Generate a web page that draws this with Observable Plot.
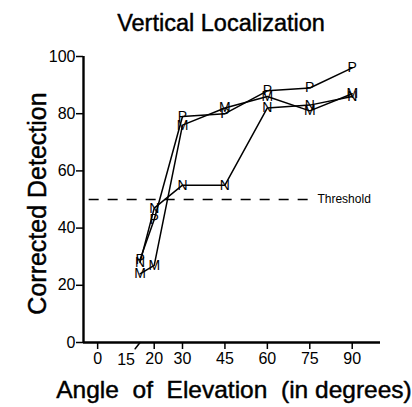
<!DOCTYPE html>
<html><head><meta charset="utf-8">
<script src="https://cdn.jsdelivr.net/npm/d3@7"></script>
<script src="https://cdn.jsdelivr.net/npm/@observablehq/plot@0.6"></script>
<style>body{margin:0;background:#fff}</style>
</head><body><div id="chart"></div>
<script>
const angles = [15, 20, 30, 45, 60, 75, 90];
const seriesP = [29, 43, 79, 80, 88, 89, 96];
const seriesM = [24, 27, 76, 82, 86, 81, 87];
const seriesN = [28, 47, 55, 55, 82, 83, 86];
const xTicks = [0, 15, 20, 30, 45, 60, 75, 90];
const shiftedTick = 15; // label drawn offset with a slanted tick, as in the original
const yTicks = [0, 20, 40, 60, 80, 100];
const threshold = 50;
const titleText = "Vertical Localization";
const xLabel = "Angle\u00a0 of\u00a0 Elevation\u00a0 (in degrees)";
const yLabel = "Corrected Detection";

const series = [["P", seriesP], ["M", seriesM], ["N", seriesN]];
const data = series.flatMap(([s, vals]) => vals.map((v, i) => ({s, x: angles[i], y: v})));
const font = "'Liberation Sans', Arial, Helvetica, sans-serif";
const lineShape = {draw(context, l) { context.moveTo(0, 0); context.lineTo(0, -l); }};
const heavy = {stroke: "#000", strokeWidth: 0.45, fill: "#000"};

const chart = Plot.plot({
  width: 412, height: 407,
  marginLeft: 83, marginRight: 32, marginTop: 56, marginBottom: 65,
  style: {fontFamily: font, background: "#fff", color: "#000"},
  x: {domain: [-5, 100], axis: null},
  y: {domain: [0, 100], axis: null},
  marks: [
    Plot.axisX({ticks: xTicks.filter(t => t !== shiftedTick), tickSize: 7, tickPadding: 3, fontSize: 16, label: null, strokeWidth: 1.5}),
    Plot.vector([shiftedTick], {x: d => d, y: () => 0, length: 8, rotate: 218, anchor: "start", shape: lineShape, stroke: "#000", strokeWidth: 1.5}),
    Plot.text([shiftedTick], {x: d => d, y: () => 0, dx: -14, dy: 17, fontSize: 16, text: d => String(d)}),
    Plot.axisY({ticks: yTicks, tickSize: 7, tickPadding: 1, fontSize: 16, label: null, strokeWidth: 1.5}),
    Plot.ruleY([0], {strokeWidth: 2.4}),
    Plot.ruleX([-5], {strokeWidth: 2.4}),
    Plot.ruleY([threshold], {x1: -3, x2: 77, strokeDasharray: "10,9", strokeWidth: 1.3}),
    Plot.text(["Threshold"], {x: 77, y: threshold, textAnchor: "start", dx: 2, fontSize: 12}),
    Plot.line(data, {x: "x", y: "y", z: "s", stroke: "#000", strokeWidth: 1.5}),
    Plot.text(data, {x: "x", y: "y", text: "s", fontSize: 14, fill: "#000"}),
    Plot.text([titleText], {frameAnchor: "top", dy: -42, dx: -11, fontSize: 23.5, ...heavy}),
    Plot.text([xLabel], {frameAnchor: "bottom", dy: 55, dx: 2, fontSize: 24.5, ...heavy}),
    Plot.text([yLabel], {frameAnchor: "left", textAnchor: "middle", dx: -46, dy: 4, rotate: -90, fontSize: 25, ...heavy})
  ]
});
document.getElementById("chart").append(chart);
</script></body></html>
